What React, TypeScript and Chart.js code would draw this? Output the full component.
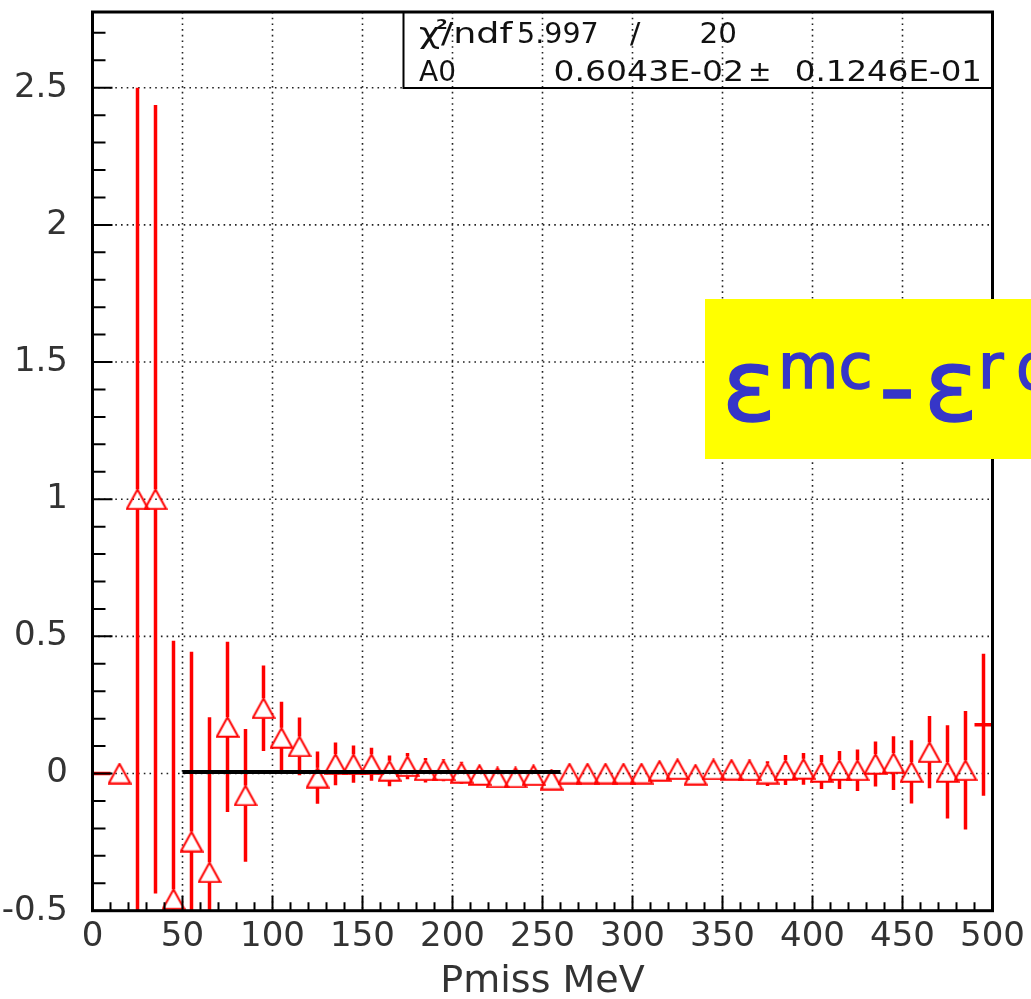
import React, { useEffect, useRef } from 'react';
import { Chart, registerables } from 'chart.js';

Chart.register(...registerables);

// ---------------- data ----------------
const binCenters = [
  5, 15, 25, 35, 45, 55, 65, 75, 85, 95,
  105, 115, 125, 135, 145, 155, 165, 175, 185, 195,
  205, 215, 225, 235, 245, 255, 265, 275, 285, 295,
  305, 315, 325, 335, 345, 355, 365, 375, 385, 395,
  405, 415, 425, 435, 445, 455, 465, 475, 485, 495,
];
const yValues = [
  0, 0, 1.0, 1.0, -0.458, -0.248, -0.36, 0.17, -0.08, 0.238,
  0.13, 0.099, -0.015, 0.035, 0.034, 0.034, 0.01, 0.027, 0.012, 0.012,
  0.003, -0.005, -0.014, -0.014, -0.006, -0.022, 0.0, 0.0, 0.0, 0.0,
  0.0, 0.01, 0.016, -0.004, 0.015, 0.014, 0.012, 0.0, 0.013, 0.017,
  0.006, 0.013, 0.012, 0.035, 0.038, 0.006, 0.078, 0.006, 0.012, 0.178,
];
const yErrors = [
  0, 0, 1.5, 1.437, 0.942, 0.692, 0.565, 0.31, 0.242, 0.156,
  0.132, 0.105, 0.095, 0.078, 0.068, 0.06, 0.056, 0.048, 0.045, 0.04,
  0.04, 0.036, 0.033, 0.032, 0.031, 0.03, 0.029, 0.028, 0.028, 0.028,
  0.029, 0.03, 0.031, 0.035, 0.033, 0.036, 0.038, 0.045, 0.055, 0.058,
  0.062, 0.069, 0.076, 0.082, 0.098, 0.115, 0.132, 0.17, 0.216, 0.259,
];
const crossOnlyBins = [5, 495];
const binHalfWidth = 5;

const fitRange = [50, 260];
const fitA0 = 0.006043;

const xTickValues = [0, 50, 100, 150, 200, 250, 300, 350, 400, 450, 500];
const xTickLabels = ['0', '50', '100', '150', '200', '250', '300', '350', '400', '450', '500'];
const yTickValues = [-0.5, 0, 0.5, 1, 1.5, 2, 2.5];
const yTickLabels = ['-0.5', '0', '0.5', '1', '1.5', '2', '2.5'];
const xMinorStep = 10;
const yMinorStep = 0.1;
const xMin = 0;
const xMax = 500;
const yMin = -0.5;
const yMax = 2.776;

const xTitle = 'Pmiss MeV';
const statsRow1 = ['χ', '2', '/ndf', '5.997', '/', '20'];
const statsRow2 = ['A0', '0.6043E-02', '±', '0.1246E-01'];
const labelParts = ['ε', 'mc', '-', 'ε', 'r', 'd'];

// ---------------- style ----------------
const FONT = "'DejaVu Sans', sans-serif";
const TEXT = '#333';
const RED = '#ff0000';
const MARK_HALF_H = 10;

function sText(ctx: any, t: string, x: number, y: number, align: string, sx: number) {
  ctx.save();
  ctx.translate(x, y);
  ctx.scale(sx, 1);
  ctx.textAlign = align;
  ctx.fillText(t, 0, 0);
  ctx.restore();
}

const rootPlugin = {
  id: 'rootStyle',
  beforeDatasetsDraw(chart: any) {
    const { ctx, chartArea: a, scales } = chart;
    const x = scales.x;
    const y = scales.y;
    ctx.save();
    // dotted grid
    ctx.strokeStyle = '#222';
    ctx.lineWidth = 1.6;
    ctx.setLineDash([1.6, 4.1]);
    ctx.beginPath();
    for (const v of xTickValues) {
      if (v <= x.min || v >= x.max) continue;
      const px = x.getPixelForValue(v);
      ctx.moveTo(px, a.top);
      ctx.lineTo(px, a.bottom);
    }
    for (const v of yTickValues) {
      if (v <= y.min || v >= y.max) continue;
      const py = y.getPixelForValue(v);
      ctx.moveTo(a.left, py);
      ctx.lineTo(a.right, py);
    }
    ctx.stroke();
    ctx.setLineDash([]);

    // error bars
    ctx.beginPath();
    ctx.rect(a.left, a.top, a.right - a.left, a.bottom - a.top);
    ctx.clip();
    ctx.strokeStyle = RED;
    ctx.lineWidth = 3.5;
    ctx.lineCap = 'butt';
    binCenters.forEach((xc, i) => {
      const v = yValues[i];
      const e = yErrors[i];
      const px = x.getPixelForValue(xc);
      const py = y.getPixelForValue(v);
      const pTop = y.getPixelForValue(v + e);
      const pBot = y.getPixelForValue(v - e);
      ctx.beginPath();
      if (crossOnlyBins.includes(xc)) {
        ctx.moveTo(px, pTop);
        ctx.lineTo(px, pBot);
        ctx.moveTo(x.getPixelForValue(xc - binHalfWidth), py);
        ctx.lineTo(x.getPixelForValue(xc + binHalfWidth), py);
      } else {
        if (pTop < py - MARK_HALF_H) {
          ctx.moveTo(px, pTop);
          ctx.lineTo(px, py - MARK_HALF_H);
        }
        if (pBot > py + MARK_HALF_H) {
          ctx.moveTo(px, py + MARK_HALF_H);
          ctx.lineTo(px, pBot);
        }
      }
      ctx.stroke();
    });
    ctx.restore();
  },
  afterDatasetsDraw(chart: any) {
    const { ctx, chartArea: a, scales } = chart;
    const x = scales.x;
    const y = scales.y;
    ctx.save();
    ctx.strokeStyle = '#000';
    // tick marks (inward)
    ctx.lineWidth = 2;
    ctx.beginPath();
    const kx0 = Math.ceil(x.min / xMinorStep);
    const kx1 = Math.floor(x.max / xMinorStep);
    for (let k = kx0; k <= kx1; k++) {
      const v = k * xMinorStep;
      const major = xTickValues.includes(v);
      const px = x.getPixelForValue(v);
      ctx.moveTo(px, a.bottom);
      ctx.lineTo(px, a.bottom - (major ? 15 : 8.5));
    }
    const ky0 = Math.ceil(y.min / yMinorStep - 1e-6);
    const ky1 = Math.floor(y.max / yMinorStep + 1e-6);
    for (let k = ky0; k <= ky1; k++) {
      const v = Math.round(k * yMinorStep * 1000) / 1000;
      const major = yTickValues.some((t) => Math.abs(t - v) < 1e-6);
      const py = y.getPixelForValue(v);
      ctx.moveTo(a.left, py);
      ctx.lineTo(a.left + (major ? 20 : 13), py);
    }
    ctx.stroke();

    // frame
    ctx.lineWidth = 3;
    ctx.strokeRect(a.left, a.top, a.right - a.left, a.bottom - a.top);

    // stats box
    const bx = 403.5;
    const bb = 88;
    ctx.lineWidth = 2;
    ctx.beginPath();
    ctx.moveTo(bx, a.top);
    ctx.lineTo(bx, bb);
    ctx.lineTo(a.right, bb);
    ctx.stroke();

    ctx.fillStyle = '#111';
    ctx.textBaseline = 'alphabetic';
    ctx.font = `28px ${FONT}`;
    const r1 = 43;
    const r2 = 81;
    const sxChi = 1.3;
    sText(ctx, statsRow1[0], 419, r1, 'left', sxChi);
    const chiW = ctx.measureText(statsRow1[0]).width * sxChi;
    ctx.font = `bold 14px ${FONT}`;
    sText(ctx, statsRow1[1], 419 + chiW - 4, r1 - 14, 'left', 1.2);
    ctx.font = `28px ${FONT}`;
    sText(ctx, statsRow1[2], 419 + chiW + 1, r1, 'left', sxChi);
    sText(ctx, statsRow1[3], 517, r1, 'left', 1.02);
    sText(ctx, statsRow1[4], 630, r1, 'left', 1.1);
    sText(ctx, statsRow1[5], 737, r1, 'right', 1.05);
    sText(ctx, statsRow2[0], 419, r2, 'left', 1.0);
    sText(ctx, statsRow2[1], 744, r2, 'right', 1.18);
    sText(ctx, statsRow2[2], 748, r2, 'left', 1.0);
    sText(ctx, statsRow2[3], 982, r2, 'right', 1.16);
    ctx.restore();
  },
  afterDraw(chart: any) {
    const { ctx, width } = chart;
    ctx.save();
    ctx.fillStyle = '#ffff00';
    ctx.fillRect(705, 299, width - 705, 160);
    ctx.fillStyle = '#3636c8';
    ctx.strokeStyle = '#3636c8';
    ctx.lineWidth = 1.5;
    ctx.textAlign = 'left';
    ctx.textBaseline = 'alphabetic';
    ctx.font = `100px ${FONT}`;
    ctx.fillText(labelParts[0], 722, 421);
    ctx.strokeText(labelParts[0], 722, 421);
    ctx.fillText(labelParts[2], 879, 421);
    ctx.strokeText(labelParts[2], 879, 421);
    ctx.fillText(labelParts[3], 924, 421);
    ctx.strokeText(labelParts[3], 924, 421);
    ctx.font = `62px ${FONT}`;
    ctx.fillText(labelParts[1], 778, 388);
    ctx.strokeText(labelParts[1], 778, 388);
    ctx.fillText(labelParts[4], 978, 388);
    ctx.strokeText(labelParts[4], 978, 388);
    ctx.fillText(labelParts[5], 1016, 388);
    ctx.strokeText(labelParts[5], 1016, 388);
    ctx.restore();
  },
};

export default function App() {
  const ref = useRef<HTMLCanvasElement | null>(null);
  useEffect(() => {
    if (!ref.current) return;
    const mk = document.createElement('canvas');
    mk.width = 24;
    mk.height = 22;
    const m = mk.getContext('2d')!;
    m.strokeStyle = RED;
    m.lineWidth = 2;
    m.beginPath();
    m.moveTo(12, 1.3);
    m.lineTo(22.7, 20.7);
    m.lineTo(1.3, 20.7);
    m.closePath();
    m.stroke();

    const chart = new Chart(ref.current, {
      type: 'scatter',
      data: {
        datasets: [
          {
            type: 'line',
            data: fitRange.map((xv) => ({ x: xv, y: fitA0 })),
            borderColor: '#000',
            borderWidth: 4,
            pointRadius: 0,
            fill: false,
            order: 0,
          } as any,
          {
            type: 'scatter',
            data: binCenters.map((xv, i) => ({ x: xv, y: yValues[i] })),
            pointStyle: mk as any,
            pointRadius: (c: any) => (crossOnlyBins.includes(binCenters[c.dataIndex]) ? 0 : 11),
            showLine: false,
            order: 1,
          } as any,
        ],
      },
      options: {
        animation: false,
        responsive: false,
        events: [],
        layout: { padding: { left: 0, top: 9, right: 38.5, bottom: 0 } },
        plugins: { legend: { display: false }, tooltip: { enabled: false } },
        scales: {
          x: {
            type: 'linear',
            min: xMin,
            max: xMax,
            grid: { display: false, drawTicks: false },
            border: { display: false },
            afterBuildTicks: (s: any) => {
              s.ticks = xTickValues.map((v) => ({ value: v }));
            },
            afterFit: (s: any) => {
              s.height = 88.3;
              s.paddingLeft = 0;
              s.paddingRight = 0;
            },
            ticks: {
              autoSkip: false,
              maxRotation: 0,
              padding: 6,
              color: TEXT,
              font: { family: FONT, size: 34 },
              callback: (_v: any, i: number) => xTickLabels[i],
            },
            title: {
              display: true,
              text: xTitle,
              color: TEXT,
              font: { family: FONT, size: 38, lineHeight: 0.9 },
              padding: { top: 0, bottom: 0 },
            },
          },
          y: {
            type: 'linear',
            min: yMin,
            max: yMax,
            grid: { display: false, drawTicks: false },
            border: { display: false },
            afterBuildTicks: (s: any) => {
              s.ticks = yTickValues.map((v) => ({ value: v }));
            },
            afterFit: (s: any) => {
              s.width = 92.5;
              s.paddingTop = 0;
              s.paddingBottom = 0;
            },
            ticks: {
              autoSkip: false,
              padding: 24.5,
              color: TEXT,
              font: { family: FONT, size: 34 },
              callback: (_v: any, i: number) => yTickLabels[i],
            },
          },
        },
      } as any,
      plugins: [rootPlugin],
    });
    return () => chart.destroy();
  }, []);

  return (
    <div style={{ position: 'fixed', left: 0, top: 0, width: 1031, height: 999, background: '#fff' }}>
      <canvas ref={ref} width={1031} height={999} style={{ display: 'block' }} />
    </div>
  );
}
